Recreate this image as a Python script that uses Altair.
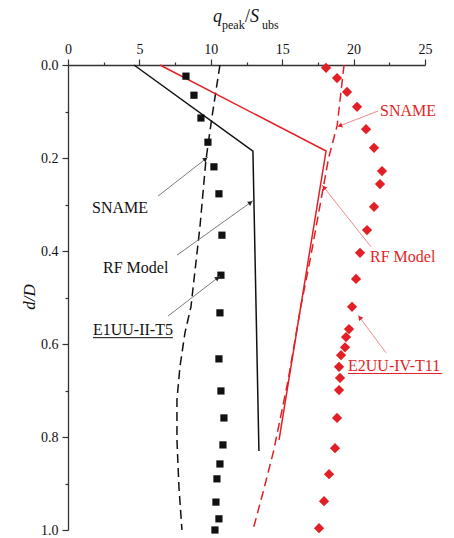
import math
import altair as alt
import pandas as pd

RED = "#e31f26"
BLACK = "#111111"
FONT = "Liberation Serif"

# Pixel extent of the plotting area (for arrowhead orientation)
PLOT_W, PLOT_H = 357, 465
X_MAX = 25.0

# ---- E1UU-II-T5 (black squares): q_peak/S_ubs vs d/D
e1_q = [8.26, 8.82, 9.31, 9.80, 10.22, 10.57, 10.78, 10.71, 10.64, 10.57,
        10.71, 10.92, 10.85, 10.64, 10.43, 10.36, 10.57, 10.29]
e1_d = [0.024, 0.065, 0.114, 0.166, 0.219, 0.277, 0.366, 0.452, 0.533, 0.632,
        0.701, 0.759, 0.817, 0.858, 0.890, 0.940, 0.976, 1.0]

# ---- E2UU-IV-T11 (red diamonds)
e2_q = [18.07, 18.84, 19.54, 20.24, 20.87, 21.43, 21.99, 21.85, 21.43, 20.94,
        20.45, 20.17, 19.89, 19.68, 19.47, 19.40, 19.12, 18.98, 19.05, 18.98,
        18.84, 18.70, 18.28, 17.93, 17.58]
e2_d = [0.006, 0.028, 0.058, 0.090, 0.138, 0.178, 0.228, 0.256, 0.305, 0.355,
        0.404, 0.460, 0.520, 0.568, 0.585, 0.607, 0.624, 0.649, 0.673, 0.699,
        0.759, 0.824, 0.880, 0.938, 0.996]

# ---- SNAME predictions (dashed)
sname1_q = [10.64, 10.08, 9.66, 9.24, 8.61, 8.19, 7.84, 7.63, 7.63, 7.77, 7.98]
sname1_d = [0.0, 0.112, 0.204, 0.348, 0.520, 0.576, 0.649, 0.720, 0.806, 0.908, 1.0]
sname2_q = [19.33, 18.85, 18.25, 17.60, 16.95, 16.30, 15.40, 14.40, 13.65, 12.95]
sname2_d = [0.0, 0.13, 0.20, 0.31, 0.42, 0.52, 0.68, 0.83, 0.92, 1.0]

# ---- RF model predictions (solid)
rf1_q = [4.62, 12.95, 13.37]
rf1_d = [0.0, 0.185, 0.830]
rf2_q = [6.44, 18.07, 14.78]
rf2_d = [0.0, 0.185, 0.806]

# ---- Annotation labels: text, left x, baseline d, colour, underlined
label_text = ["SNAME", "RF Model", "E1UU-II-T5", "SNAME", "RF Model", "E2UU-IV-T11"]
label_x = [1.68, 2.45, 1.75, 21.85, 21.15, 19.61]
label_d = [0.318, 0.447, 0.581, 0.110, 0.424, 0.658]
label_color = [BLACK, BLACK, BLACK, RED, RED, RED]
label_under = [False, False, True, False, False, True]

# ---- Leader arrows: start (near label) -> tip (at curve / point)
arrow_x0 = [6.30, 7.63, 7.00, 21.71, 21.22, 22.27]
arrow_d0 = [0.282, 0.409, 0.540, 0.099, 0.391, 0.619]
arrow_x1 = [9.80, 12.95, 10.64, 18.84, 17.79, 20.31]
arrow_d1 = [0.198, 0.292, 0.454, 0.133, 0.258, 0.538]
arrow_line = ["#6b6b6b", "#6b6b6b", "#6b6b6b", "#f07c7c", "#f07c7c", "#f07c7c"]
arrow_head = ["#222222", "#222222", "#222222", RED, RED, RED]

FS_LABEL = 16
# Times-style advance widths (em) for underline lengths
ADV = {"E": .611, "1": .5, "2": .5, "5": .5, "U": .722, "-": .333, "I": .333,
       "V": .722, "T": .611}


def text_width(s, size):
    return sum(ADV.get(c, .5) for c in s) * size


px_per_q = PLOT_W / X_MAX
px_per_d = PLOT_H / 1.0

xs = alt.Scale(domain=[0, 25], nice=False, zero=False)
ys = alt.Scale(domain=[0, 1], reverse=True, nice=False, zero=False)

x_axis = alt.Axis(
    orient="top", values=[i * 2.5 for i in range(11)], title=None,
    labelExpr="datum.value % 5 === 0 ? format(datum.value, 'd') : ''",
    tickSize={"condition": {"test": "datum.value % 5 === 0", "value": 6}, "value": 3},
    labelPadding=3, labelOverlap=False, labelFlush=False,
)
y_axis = alt.Axis(
    orient="left", values=[i / 10 for i in range(11)], title=None,
    labelExpr="round(datum.value * 10) % 2 === 0 ? format(datum.value, '.1f') : ''",
    tickSize={"condition": {"test": "round(datum.value * 10) % 2 === 0", "value": 6}, "value": 3},
    labelPadding=4, labelOverlap=False, labelFlush=False,
)


def X(field):
    return alt.X(field, scale=xs, axis=x_axis)


def Y(field):
    return alt.Y(field, scale=ys, axis=y_axis)


def line_layer(q, d, color, dash=None):
    df = pd.DataFrame({"q": q, "d": d, "i": range(len(q))})
    kw = dict(color=color, strokeWidth=1.5, clip=False)
    if dash:
        kw["strokeDash"] = dash
    return alt.Chart(df).mark_line(**kw).encode(
        x=X("q:Q"), y=Y("d:Q"), order="i:Q")


layers = [
    line_layer(rf1_q, rf1_d, BLACK),
    line_layer(sname1_q, sname1_d, BLACK, dash=[9, 5]),
    line_layer(rf2_q, rf2_d, RED),
    line_layer(sname2_q, sname2_d, RED, dash=[9, 5]),
]

e1_df = pd.DataFrame({"q": e1_q, "d": e1_d})
layers.append(alt.Chart(e1_df).mark_point(shape="square", filled=True, size=52,
                                          color=BLACK, opacity=1).encode(
    x=X("q:Q"), y=Y("d:Q")))
e2_df = pd.DataFrame({"q": e2_q, "d": e2_d})
layers.append(alt.Chart(e2_df).mark_point(shape="diamond", filled=True, size=105,
                                          color=RED, opacity=1).encode(
    x=X("q:Q"), y=Y("d:Q")))

# leader lines and arrowheads
heads = []
for x0, d0, x1, d1, lc, hc in zip(arrow_x0, arrow_d0, arrow_x1, arrow_d1,
                                  arrow_line, arrow_head):
    dx = (x1 - x0) * px_per_q
    dy = (d1 - d0) * px_per_d
    ang = math.degrees(math.atan2(dx, -dy)) % 360
    L = math.hypot(dx, dy)
    back = 3.0
    hx = x1 - dx / L * back / px_per_q
    hd = d1 - dy / L * back / px_per_d
    heads.append({"x": hx, "d": hd, "ang": ang, "c": hc})
    seg = pd.DataFrame({"x": [x0], "d": [d0], "x2": [x1], "d2": [d1]})
    layers.append(alt.Chart(seg).mark_rule(color=lc, strokeWidth=0.9).encode(
        x=X("x:Q"), y=Y("d:Q"), x2="x2:Q", y2="d2:Q"))
heads_df = pd.DataFrame(heads)
layers.append(alt.Chart(heads_df).mark_point(shape="triangle-up", filled=True,
                                             size=28, opacity=1).encode(
    x=X("x:Q"), y=Y("d:Q"),
    angle=alt.Angle("ang:Q", scale=None),
    color=alt.Color("c:N", scale=None)))

# annotation labels and underlines
lab_df = pd.DataFrame({"t": label_text, "x": label_x, "d": label_d, "c": label_color})
layers.append(alt.Chart(lab_df).mark_text(font=FONT, fontSize=FS_LABEL, align="left",
                                          baseline="alphabetic").encode(
    x=X("x:Q"), y=Y("d:Q"), text="t:N",
    color=alt.Color("c:N", scale=None)))
ul = []
for t, x, d, c, u in zip(label_text, label_x, label_d, label_color, label_under):
    if u:
        w = text_width(t, FS_LABEL) / px_per_q
        ul.append({"x": x, "x2": x + w, "d": d + 2.5 / px_per_d, "c": c})
ul_df = pd.DataFrame(ul)
layers.append(alt.Chart(ul_df).mark_rule(strokeWidth=1).encode(
    x=X("x:Q"), x2="x2:Q", y=Y("d:Q"),
    color=alt.Color("c:N", scale=None)))

# axis titles: q_peak / S_ubs and d/D
title_parts = [
    ("q", 145, -43, 18, "italic"),
    ("peak", 154, -36, 12, "normal"),
    ("/", 177, -43, 18, "normal"),
    ("S", 182, -43, 18, "italic"),
    ("ubs", 194, -36, 12, "normal"),
]
for t, px, py, fs, st in title_parts:
    layers.append(alt.Chart(pd.DataFrame({"t": [t]})).mark_text(
        font=FONT, fontSize=fs, fontStyle=st, align="left", baseline="alphabetic",
        color=BLACK).encode(x=alt.value(px), y=alt.value(py), text="t:N"))
layers.append(alt.Chart(pd.DataFrame({"t": ["d/D"]})).mark_text(
    font=FONT, fontSize=17, fontStyle="italic", angle=270, align="center",
    baseline="middle", color=BLACK).encode(x=alt.value(-38), y=alt.value(232), text="t:N"))

chart = alt.layer(*layers).properties(
    width=PLOT_W, height=PLOT_H,
    padding={"left": 68, "top": 65, "right": 29, "bottom": 8},
    autosize=alt.AutoSizeParams(type="none"),
    background="white",
).configure_view(stroke=None).configure_axis(
    domainColor="#333333", domainWidth=1.3, tickColor="#333333", tickWidth=1.2,
    labelFont=FONT, labelFontSize=14, labelColor=BLACK, grid=False,
)

chart.save("out.html", embed_options={"renderer": "svg", "actions": False})
